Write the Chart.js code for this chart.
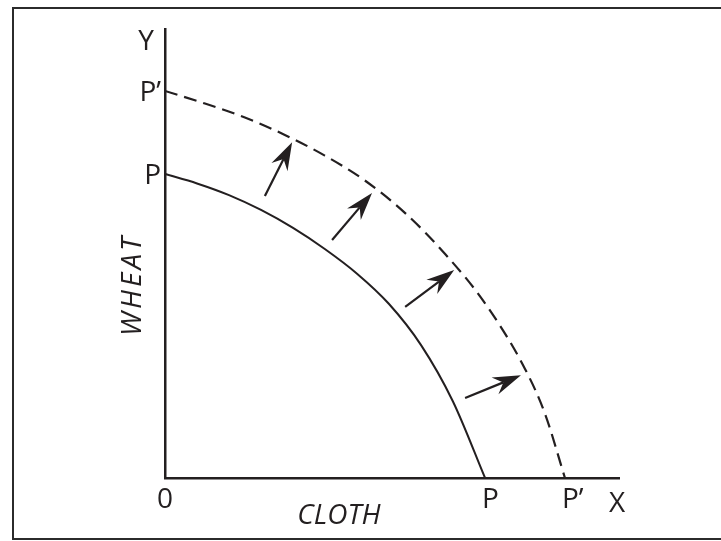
<!DOCTYPE html>
<html>
<head>
<meta charset="utf-8">
<title>Shift of the production possibility curve</title>
<script src="https://cdn.jsdelivr.net/npm/chart.js@4.4.1/dist/chart.umd.min.js"></script>
<style>
  html, body { margin: 0; padding: 0; background: #fff; }
</style>
</head>
<body>
<canvas id="ppcChart" width="721" height="541"></canvas>
<script>
/* ===== Data ===== */

// original curve P-P
const ppcX = [0, 0.705, 1.41, 2.115, 2.82, 3.52, 4.23, 4.93, 5.64, 6.34, 7.05];
const ppcY = [6.77, 6.56, 6.30, 5.97, 5.57, 5.10, 4.55, 3.88, 2.96, 1.71, 0];

// shifted curve P'-P'
const newX = [0, 0.88, 1.76, 2.64, 3.52, 4.41, 5.29, 6.17, 7.05, 7.93, 8.37, 8.81];
const newY = [8.62, 8.34, 8.03, 7.64, 7.18, 6.62, 5.90, 4.99, 3.89, 2.43, 1.43, 0];

// arrows showing the outward shift
const arrowFromX = [2.20, 3.68, 5.29, 6.61];
const arrowFromY = [6.28, 5.30, 3.81, 1.78];
const arrowToX = [2.80, 4.56, 6.37, 7.84];
const arrowToY = [7.48, 6.35, 4.63, 2.29];

// intercept labels
const yTickValues = [6.77, 8.62];
const yTickLabels = ["P", "P\u2019"];
const xTickValues = [0, 7.05, 8.81];
const xTickLabels = ["0", "P", "P\u2019"];

// axis names
const xAxisName = "X";
const yAxisName = "Y";
const xTitle = "CLOTH";
const yTitle = "WHEAT";
const xTitleAt = 3.83;
const yTitleAt = 4.3;

const xMax = 10;
const yMax = 10;

/* ===== Styles ===== */
const ink = "#231f20";
const labelFont = "28px 'Open Sans', sans-serif";
const titleFont = "italic 28px 'Open Sans', sans-serif";

function toPoints(xs, ys) {
  return xs.map((v, i) => ({ x: v, y: ys[i] }));
}

function drawArrow(ctx, x0, y0, x1, y1) {
  const ang = Math.atan2(y1 - y0, x1 - x0);
  const shaft = Math.hypot(x1 - x0, y1 - y0);
  const len = 28, half = 9, notch = 19;
  ctx.save();
  ctx.translate(x1, y1);
  ctx.rotate(ang);
  ctx.strokeStyle = ink;
  ctx.lineWidth = 2.2;
  ctx.beginPath();
  ctx.moveTo(-shaft, 0);
  ctx.lineTo(-notch, 0);
  ctx.stroke();
  ctx.fillStyle = ink;
  ctx.beginPath();
  ctx.moveTo(0, 0);
  ctx.lineTo(-len, -half);
  ctx.lineTo(-notch, 0);
  ctx.lineTo(-len, half);
  ctx.closePath();
  ctx.fill();
  ctx.restore();
}

/* ===== Frame, arrows and labels ===== */
const sketchPlugin = {
  id: "sketch",
  beforeDraw(chart) {
    const ctx = chart.ctx;
    ctx.save();
    ctx.strokeStyle = "#2b2b2b";
    ctx.lineWidth = 2;
    ctx.strokeRect(13, 8, 740, 531);
    ctx.restore();
  },
  afterDraw(chart) {
    const { ctx, chartArea, scales } = chart;
    const x = scales.x, y = scales.y;
    ctx.save();

    for (let i = 0; i < arrowFromX.length; i++) {
      drawArrow(ctx,
        x.getPixelForValue(arrowFromX[i]), y.getPixelForValue(arrowFromY[i]),
        x.getPixelForValue(arrowToX[i]), y.getPixelForValue(arrowToY[i]));
    }

    ctx.fillStyle = ink;
    ctx.font = labelFont;
    ctx.textBaseline = "alphabetic";

    // intercepts on the wheat axis
    ctx.textAlign = "right";
    yTickValues.forEach((v, i) => {
      ctx.fillText(yTickLabels[i], chartArea.left - 4, y.getPixelForValue(v) + 10);
    });

    // intercepts on the cloth axis
    xTickValues.forEach((v, i) => {
      ctx.textAlign = v === 0 ? "center" : "left";
      const px = x.getPixelForValue(v) + (v === 0 ? 0 : -3);
      ctx.fillText(xTickLabels[i], px, chartArea.bottom + 30);
    });

    // axis letters
    ctx.textAlign = "center";
    ctx.fillText(yAxisName, chartArea.left - 19, chartArea.top + 21);
    ctx.fillText(xAxisName, chartArea.right - 2, chartArea.bottom + 34);

    // axis titles
    ctx.font = titleFont;
    ctx.fillText(xTitle, x.getPixelForValue(xTitleAt), chartArea.bottom + 46);
    ctx.save();
    ctx.translate(chartArea.left - 24, y.getPixelForValue(yTitleAt));
    ctx.rotate(-Math.PI / 2);
    ctx.letterSpacing = "3px";
    ctx.fillText(yTitle, 0, 0);
    ctx.restore();

    ctx.restore();
  }
};

/* ===== Chart ===== */
const ctx = document.getElementById("ppcChart").getContext("2d");
const ppcChart = new Chart(ctx, {
  type: "scatter",
  data: {
    datasets: [
      {
        label: "PP",
        data: toPoints(ppcX, ppcY),
        showLine: true,
        borderColor: ink,
        borderWidth: 2,
        pointRadius: 0,
        cubicInterpolationMode: "monotone"
      },
      {
        label: "P'P'",
        data: toPoints(newX, newY),
        showLine: true,
        borderColor: ink,
        borderWidth: 2.2,
        borderDash: [13, 7],
        pointRadius: 0,
        cubicInterpolationMode: "monotone"
      }
    ]
  },
  options: {
    responsive: false,
    animation: false,
    devicePixelRatio: 1,
    layout: { padding: { left: 165, top: 29, right: 102, bottom: 63 } },
    plugins: { legend: { display: false }, tooltip: { enabled: false } },
    scales: {
      x: {
        type: "linear",
        min: 0,
        max: xMax,
        grid: { display: false, drawTicks: false },
        ticks: { display: false },
        border: { display: true, color: ink, width: 2.5 }
      },
      y: {
        type: "linear",
        min: 0,
        max: yMax,
        grid: { display: false, drawTicks: false },
        ticks: { display: false },
        border: { display: true, color: ink, width: 2.5 }
      }
    }
  },
  plugins: [sketchPlugin]
});
</script>
</body>
</html>
